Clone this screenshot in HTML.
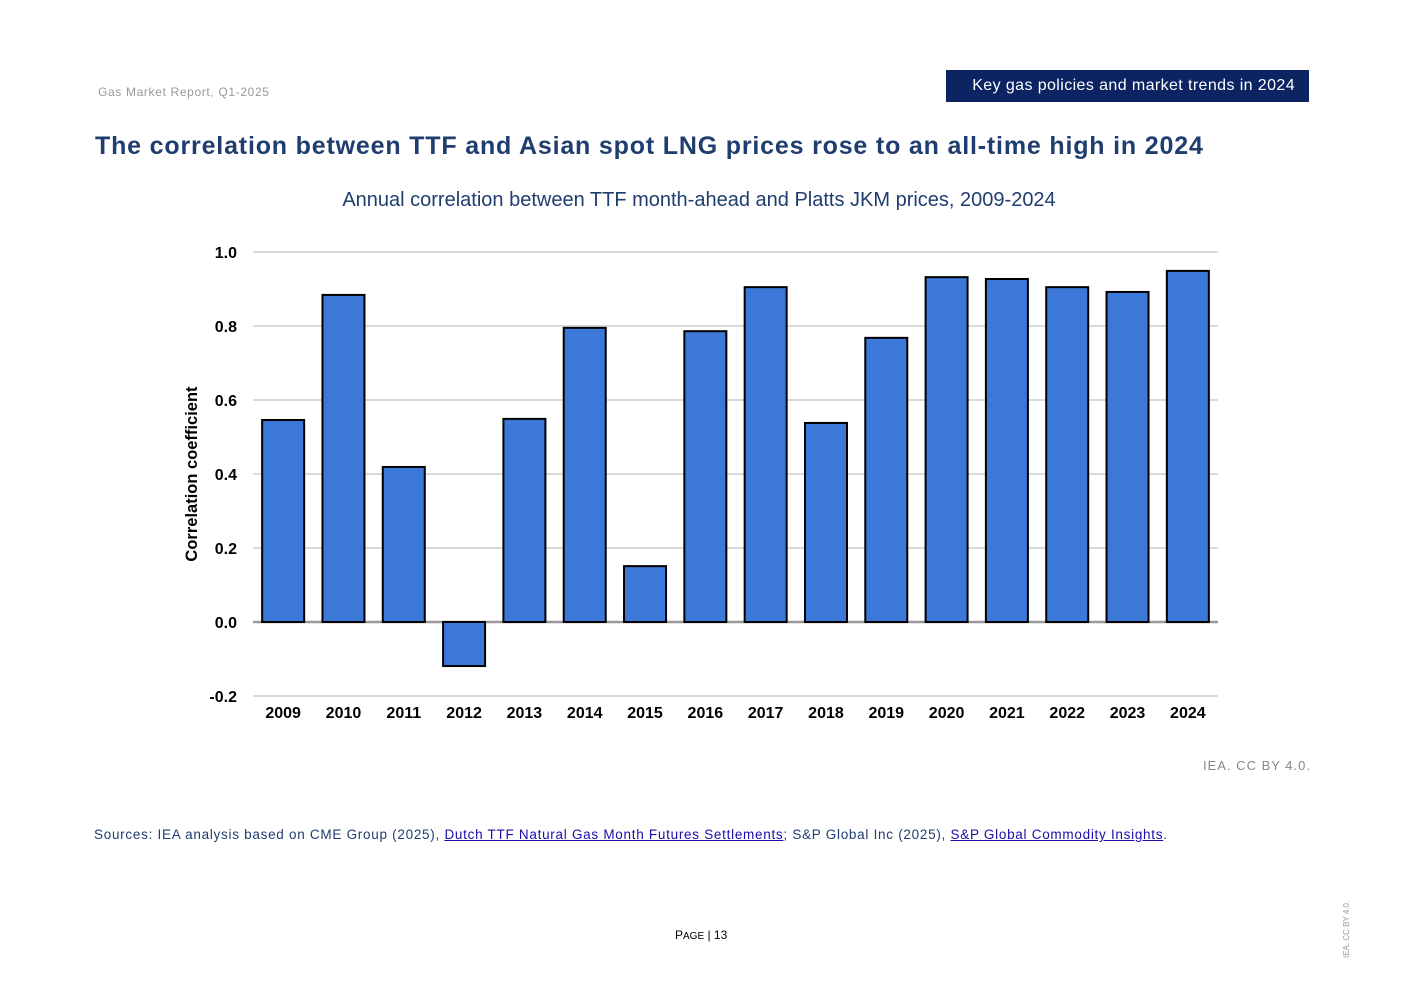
<!DOCTYPE html>
<html><head><meta charset="utf-8"><style>
body{margin:0;width:1403px;height:992px;background:#fff;font-family:"Liberation Sans",Arial,sans-serif;position:relative;overflow:hidden}
.a{position:absolute;white-space:nowrap}
a{color:#1a0dab;text-decoration:underline}
</style></head><body>
<div class="a" style="left:98px;top:85px;font-size:12px;color:#999;letter-spacing:0.65px">Gas Market Report, Q1-2025</div>
<div class="a" style="left:946px;top:70px;width:363px;height:32px;background:#0d2463;color:#fff;font-size:16px;line-height:32px;text-align:right;box-sizing:border-box;padding-right:14px;letter-spacing:0.4px">Key gas policies and market trends in 2024</div>
<div class="a" style="left:95px;top:132px;font-size:25px;font-weight:bold;color:#1f3d6e;letter-spacing:0.82px">The correlation between TTF and Asian spot LNG prices rose to an all-time high in 2024</div>
<div class="a" style="left:0;width:1398px;text-align:center;top:189px;font-size:20px;color:#1f3d6e">Annual correlation between TTF month-ahead and Platts JKM prices, 2009-2024</div>
<svg class="a" style="left:0;top:0" width="1403" height="992" id="chart"></svg>
<div class="a" style="left:1203px;top:758px;font-size:13px;color:#888;letter-spacing:1px">IEA. CC BY 4.0.</div>
<div class="a" style="left:94px;top:827px;font-size:13.5px;color:#1f3d6e;letter-spacing:0.72px">Sources: IEA analysis based on CME Group (2025), <a>Dutch TTF Natural Gas Month Futures Settlements</a>; S&amp;P Global Inc (2025), <a>S&amp;P Global Commodity Insights</a>.</div>
<div class="a" style="left:675px;top:928px;font-size:12px;color:#000">P<span style="font-size:10px">AGE</span> | 13</div>
<div class="a" style="left:1342px;top:958px;font-size:8px;color:#999;transform:rotate(-90deg);transform-origin:0 0">IEA. CC BY 4.0.</div>
<script>
const categories=["2009","2010","2011","2012","2013","2014","2015","2016","2017","2018","2019","2020","2021","2022","2023","2024"];
const values=[0.546,0.884,0.419,-0.119,0.549,0.795,0.151,0.786,0.905,0.538,0.768,0.932,0.927,0.905,0.892,0.949];
const yTicks=[1.0,0.8,0.6,0.4,0.2,0.0,-0.2];
const svg=document.getElementById('chart');const NS='http://www.w3.org/2000/svg';
const x0=253,x1=1218,yTop=252,yBot=696,vMax=1,vMin=-0.2;
const y=v=>yTop+(vMax-v)/(vMax-vMin)*(yBot-yTop);
const step=(x1-x0)/categories.length;
const xc=i=>x0+step*(i+0.5);
function mk(t,a){const e=document.createElementNS(NS,t);for(const k in a)e.setAttribute(k,a[k]);svg.appendChild(e);return e;}
yTicks.forEach(t=>{
 const l=mk('line',{x1:x0,x2:x1,y1:y(t),y2:y(t),stroke:t===0?'#999':'#d9d9d9','stroke-width':t===0?2.5:2});
 
 
 const tx=mk('text',{x:237,y:y(t)+6,'text-anchor':'end','font-size':16,'font-weight':'bold','font-family':'Liberation Sans, sans-serif'});
 tx.textContent=t.toFixed(1);
 
 
});
values.forEach((v,i)=>{
 const top=y(Math.max(v,0)),bot=y(Math.min(v,0));
 const r=mk('rect',{x:xc(i)-21,y:top,width:42,height:bot-top,fill:'#3c78d8',stroke:'#000','stroke-width':2});
 
 
 const tx=mk('text',{x:xc(i),y:718,'text-anchor':'middle','font-size':16,'font-weight':'bold','font-family':'Liberation Sans, sans-serif'});
 tx.textContent=categories[i];
 
 
});
const yt=mk('text',{x:0,y:0,transform:'translate(197,474) rotate(-90)','text-anchor':'middle','font-size':16.5,'font-weight':'bold','font-family':'Liberation Sans, sans-serif'});
yt.textContent='Correlation coefficient';


</script>
</body></html>
